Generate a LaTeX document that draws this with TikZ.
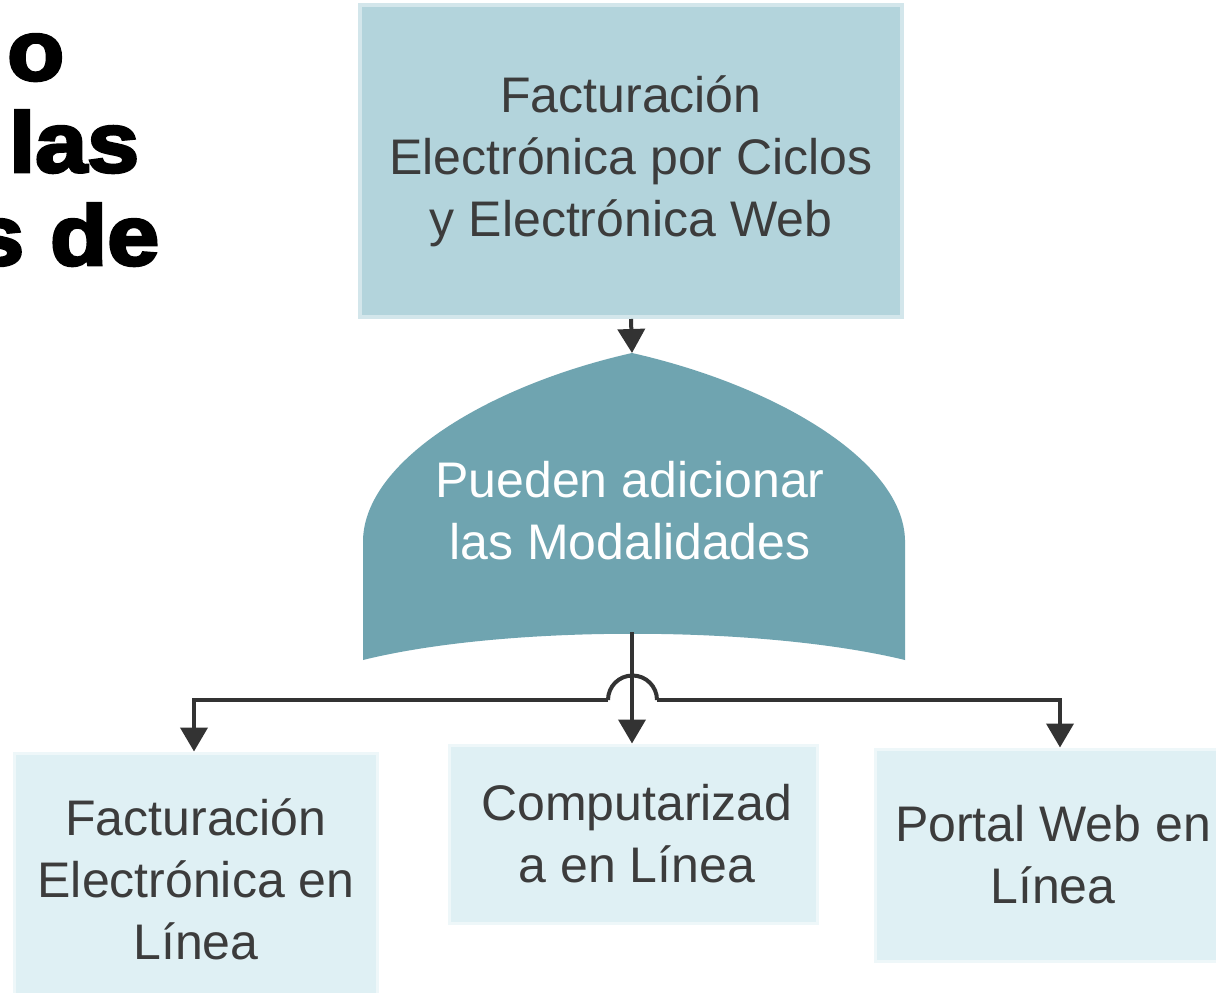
\documentclass[tikz,border=0pt]{standalone}
\usepackage{fontspec}
\setmainfont{Liberation Sans}
\newfontfamily\titlefont[FakeBold=3.5,FakeStretch=1.1]{Liberation Sans Bold}
\usetikzlibrary{arrows.meta}
\definecolor{topfill}{HTML}{B3D4DC}
\definecolor{topline}{HTML}{D3E6EB}
\definecolor{shapefill}{HTML}{6FA4B0}
\definecolor{lightfill}{HTML}{DFF0F4}
\definecolor{lightline}{HTML}{EEF7F9}
\definecolor{txt}{HTML}{3C3C3C}
\definecolor{linec}{HTML}{333333}
\tikzset{
  boxtext/.style={align=center, text=txt, font=\fontsize{50}{62}\selectfont, inner sep=0pt},
  topbox/.style={boxtext, rectangle, fill=topfill, draw=topline, line width=4pt},
  lbox/.style={boxtext, rectangle, fill=lightfill, draw=lightline, line width=3pt},
  conn/.style={draw=linec, line width=4pt},
  arr/.style={conn, -{Triangle[width=27pt,length=24pt]}},
  titletext/.style={font=\titlefont\fontsize{85}{92}\selectfont, anchor=base west, inner sep=0pt, text=black}
}
\begin{document}
\begin{tikzpicture}[x=1pt,y=-1pt]
\useasboundingbox (0,0) rectangle (1216,993);
\fill[white] (0,0) rectangle (1216,993);
% title fragments
\node[titletext] (t1) at (7,80) {o};
\node[titletext] (t2) at (9,172) {las};
\node[titletext] (t3) at (-28,265) {s de};
% top box
\node[topbox, minimum width=542pt, minimum height=312pt] (top) at (631,161)
  {Facturación\\Electrónica por Ciclos\\y Electrónica Web};
% shaped node
\fill[shapefill] (363,660) -- (363,540)
  .. controls (365,460) and (490,385) .. (632,353)
  .. controls (774,385) and (903,460) .. (905,540)
  -- (905,660)
  .. controls (760,625) and (504,625) .. (363,660) -- cycle;
\coordinate (apex) at (632,353);
\coordinate (bot) at (632,632);
\node[boxtext, text=white] (mod) at (630,511) {Pueden adicionar\\las Modalidades};
% bottom boxes
\node[lbox, minimum width=363pt, minimum height=252pt] (left) at (196,879)
  {Facturación\\Electrónica en\\Línea};
\node[lbox, minimum width=368pt, minimum height=178pt] (mid) at (633,834)
  {\hspace*{8pt}Computarizad\\\hspace*{8pt}a en Línea};
\node[lbox, minimum width=356pt, minimum height=212pt] (right) at (1053,855)
  {Portal Web en\\Línea};
% connectors
\draw[arr] (top.south) -- (apex);
\coordinate (jl) at (608,700);
\coordinate (jr) at (657,700);
\draw[arr] (jl) -| ([xshift=-2pt]left.north);
\draw[arr] (jr) -| ([xshift=7pt]right.north);
\draw[conn] (jl) arc (180:360:24.5);
\draw[arr] (bot) -- (bot |- mid.north);
\end{tikzpicture}
\end{document}
